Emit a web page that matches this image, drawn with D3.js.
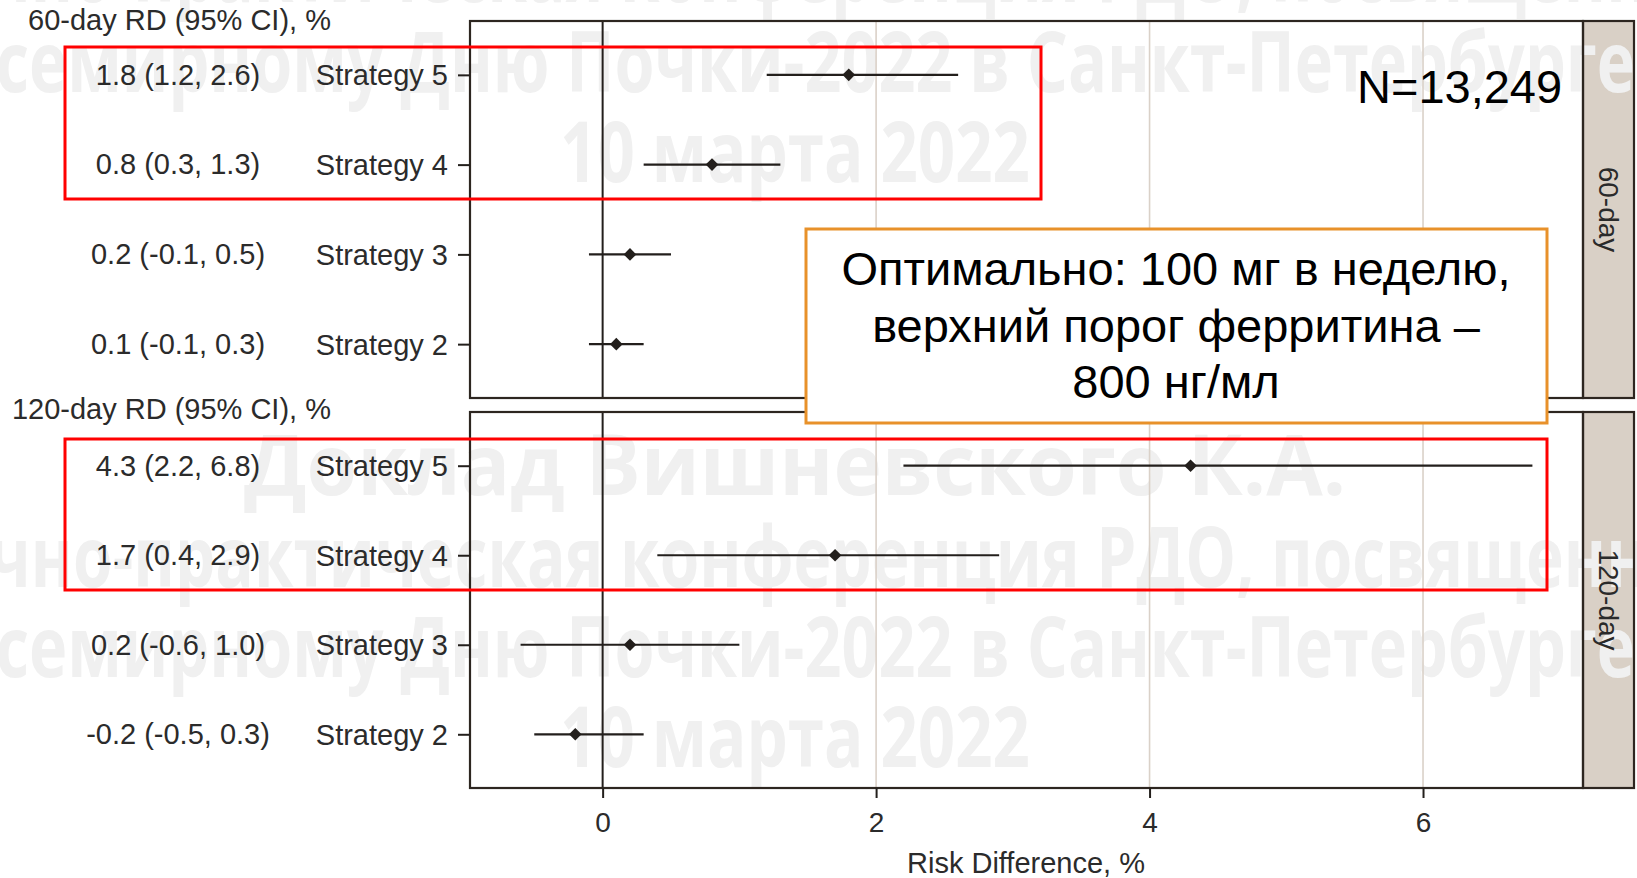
<!DOCTYPE html>
<html><head><meta charset="utf-8">
<script src="https://cdn.jsdelivr.net/npm/d3@7"></script>
<style>body{margin:0;background:#fff}svg{display:block}</style>
</head><body>
<script>
// ---- data ----
const strategies = ["Strategy 5", "Strategy 4", "Strategy 3", "Strategy 2"];
const panelNames = ["60-day", "120-day"];
const panelHeadings = ["60-day RD (95% CI), %", "120-day RD (95% CI), %"];
const est60 = [1.8, 0.8, 0.2, 0.1];
const lo60  = [1.2, 0.3, -0.1, -0.1];
const hi60  = [2.6, 1.3, 0.5, 0.3];
const est120 = [4.3, 1.7, 0.2, -0.2];
const lo120  = [2.2, 0.4, -0.6, -0.5];
const hi120  = [6.8, 2.9, 1.0, 0.3];
const xTicks = [0, 2, 4, 6];
const xTitle = "Risk Difference, %";
const nLabel = "N=13,249";
const noteLines = ["Оптимально: 100 мг в неделю,", "верхний порог ферритина –", "800 нг/мл"];
const watermark = [
  {t:"Научно-практическая конференция РДО, посвященная", y:2, w:1860},
  {t:"всемирному Дню Почки-2022 в Санкт-Петербурге", y:92, w:1680},
  {t:"10 марта 2022", y:182, w:470},
  {t:"Доклад Вишневского К.А.", y:495, w:1102},
  {t:"Научно-практическая конференция РДО, посвященная", y:587, w:1860},
  {t:"всемирному Дню Почки-2022 в Санкт-Петербурге", y:677, w:1680},
  {t:"10 марта 2022", y:767, w:470}
];

const W = 1637, H = 878;
const FONT = "'Liberation Sans', Arial, Helvetica, sans-serif";
const dark = "#231f1c", border = "#2d2620", grid = "#dad1c8", stripFill = "#d9d0c6", txt = "#2b2b2b";
const FS = 29;

const svg = d3.select("body").append("svg").attr("width", W).attr("height", H)
  .style("font-family", FONT);
svg.append("rect").attr("width", W).attr("height", H).attr("fill", "#fff");

const allLo = d3.min(lo60.concat(lo120)), allHi = d3.max(hi60.concat(hi120));
const pad = (allHi - allLo) * 0.05;
const x = d3.scaleLinear().domain([allLo - pad, allHi + pad]).range([470, 1583]);
const panelY = [[21, 398], [412, 788]];
const series = [[est60, lo60, hi60], [est120, lo120, hi120]];
const fmt = v => v.toFixed(1);

// strip fills (background layer)
panelY.forEach(([top, bot]) => {
  svg.append("rect").attr("x", 1583).attr("y", top).attr("width", 51).attr("height", bot - top)
    .attr("fill", stripFill);
});

// watermark
const wm = svg.append("g").attr("fill", "#f0f0f0").style("font-family", "'Open Sans', 'DejaVu Sans', sans-serif")
  .attr("font-weight", 700).attr("font-size", 84);
watermark.forEach(d => {
  wm.append("text").attr("x", 795).attr("y", d.y).attr("text-anchor", "middle")
    .attr("textLength", d.w).attr("lengthAdjust", "spacingAndGlyphs").text(d.t);
});

panelNames.forEach((name, pi) => {
  const [top, bot] = panelY[pi];
  const y = d3.scalePoint().domain(strategies).range([top, bot]).padding(0.6);
  const [est, lo, hi] = series[pi];
  const g = svg.append("g");
  g.selectAll("line.grid").data(xTicks.filter(t => t !== 0)).join("line")
    .attr("x1", d => x(d)).attr("x2", d => x(d)).attr("y1", top).attr("y2", bot)
    .attr("stroke", grid).attr("stroke-width", 1.6);
  g.append("line").attr("x1", x(0)).attr("x2", x(0)).attr("y1", top).attr("y2", bot)
    .attr("stroke", dark).attr("stroke-width", 2);
  g.selectAll("line.ci").data(strategies).join("line")
    .attr("x1", (d, i) => x(lo[i])).attr("x2", (d, i) => x(hi[i]))
    .attr("y1", d => y(d)).attr("y2", d => y(d))
    .attr("stroke", dark).attr("stroke-width", 2.2);
  g.selectAll("path.pt").data(strategies).join("path")
    .attr("d", d3.symbol(d3.symbolSquare, 80))
    .attr("transform", (d, i) => `translate(${x(est[i])},${y(d)}) rotate(45)`)
    .attr("fill", dark);
  g.append("rect").attr("x", 470).attr("y", top).attr("width", 1583 - 470).attr("height", bot - top)
    .attr("fill", "none").attr("stroke", border).attr("stroke-width", 2.2);
  g.append("rect").attr("x", 1583).attr("y", top).attr("width", 51).attr("height", bot - top)
    .attr("fill", "none").attr("stroke", border).attr("stroke-width", 2.2);
  g.append("text").attr("transform", `translate(1609,${(top + bot) / 2}) rotate(90)`)
    .attr("text-anchor", "middle").attr("dy", "0.35em").attr("font-size", 28).attr("fill", "#2a2a2a")
    .text(name);
  const ya = svg.append("g").attr("transform", "translate(470,0)")
    .call(d3.axisLeft(y).tickSize(12).tickPadding(10));
  ya.select(".domain").remove();
  ya.selectAll(".tick line").attr("stroke", dark).attr("stroke-width", 2);
  ya.selectAll(".tick text").attr("font-size", FS).attr("fill", txt).attr("font-family", FONT).attr("dy", "0.34em");
  svg.append("g").selectAll("text").data(strategies).join("text")
    .attr("x", 178).attr("y", d => y(d)).attr("dy", "0.34em").attr("text-anchor", "middle")
    .attr("font-size", FS).attr("fill", txt)
    .text((d, i) => `${fmt(est[i])} (${fmt(lo[i])}, ${fmt(hi[i])})`);
  svg.append("text").attr("x", 331).attr("y", pi === 0 ? 30 : 419).attr("text-anchor", "end")
    .attr("font-size", FS).attr("fill", txt).text(panelHeadings[pi]);
});

const xa = svg.append("g").attr("transform", "translate(0,788)")
  .call(d3.axisBottom(x).tickValues(xTicks).tickSize(10).tickPadding(14).tickFormat(d3.format("d")));
xa.select(".domain").remove();
xa.selectAll(".tick line").attr("stroke", dark).attr("stroke-width", 2);
xa.selectAll(".tick text").attr("font-size", 28).attr("fill", txt).attr("font-family", FONT);
svg.append("text").attr("x", 1026).attr("y", 873).attr("text-anchor", "middle")
  .attr("font-size", FS).attr("fill", txt).text(xTitle);

svg.append("text").attr("x", 1357).attr("y", 103).attr("font-size", 47).attr("fill", "#000").text(nLabel);

svg.append("rect").attr("x", 65).attr("y", 47).attr("width", 1041 - 65).attr("height", 199 - 47)
  .attr("fill", "none").attr("stroke", "#ff0000").attr("stroke-width", 3);
svg.append("rect").attr("x", 65).attr("y", 439).attr("width", 1547 - 65).attr("height", 590 - 439)
  .attr("fill", "none").attr("stroke", "#ff0000").attr("stroke-width", 3);

svg.append("rect").attr("x", 806).attr("y", 229).attr("width", 1547 - 806).attr("height", 423 - 229)
  .attr("fill", "#fff").attr("stroke", "#e8912a").attr("stroke-width", 3);
svg.append("g").selectAll("text").data(noteLines).join("text")
  .attr("x", 1176).attr("y", (d, i) => 285 + i * 56.5).attr("text-anchor", "middle")
  .attr("font-size", 47).attr("fill", "#000").text(d => d);
</script>
</body></html>
